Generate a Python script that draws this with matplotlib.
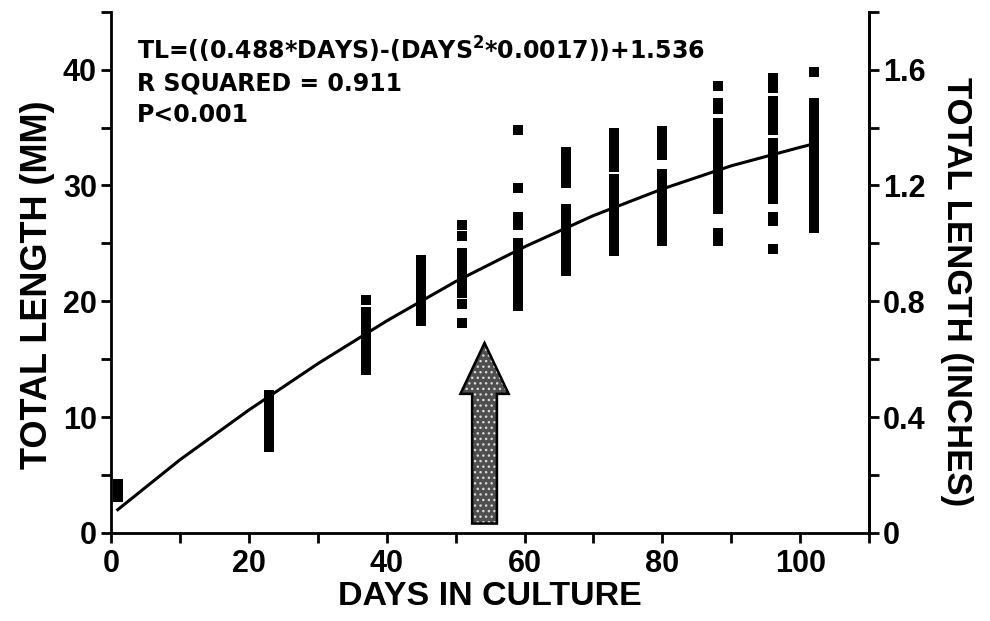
import matplotlib
matplotlib.use('Agg')
import matplotlib.pyplot as plt
from matplotlib.patches import Polygon
from matplotlib.ticker import MultipleLocator

plt.rcParams['font.family'] = ['Liberation Sans', 'DejaVu Sans']
plt.rcParams['font.weight'] = 'bold'
plt.rcParams['mathtext.fontset'] = 'custom'
plt.rcParams['mathtext.rm'] = 'DejaVu Sans:bold'
plt.rcParams['mathtext.it'] = 'DejaVu Sans:bold'
plt.rcParams['mathtext.bf'] = 'DejaVu Sans:bold'

# sample days (columns of fish measurements)
days = [1, 23, 37, 45, 51, 59, 66, 73, 80, 88, 96, 102]

# total length (mm), top to bottom
tl_d1 = [4.2, 3.9, 3.6, 3.3, 3.1]
tl_d23 = [11.9, 11.6, 11.3, 11.0, 10.7, 10.4, 10.1, 9.8, 9.5, 9.2, 8.9, 8.6, 8.3, 8.0, 7.7, 7.4]
tl_d37 = [20.1, 19.1, 18.8, 18.5, 18.2, 17.9, 17.6, 17.3, 17.0, 16.7, 16.4, 16.1, 15.8, 15.5,
          15.2, 14.9, 14.6, 14.3, 14.1]
tl_d45 = [23.6, 23.3, 23.0, 22.7, 22.4, 22.1, 21.8, 21.5, 21.2, 20.9, 20.6, 20.3, 20.0, 19.7,
          19.4, 19.1, 18.8, 18.5, 18.3]
tl_d51 = [26.6, 25.6, 24.2, 23.9, 23.6, 23.3, 23.0, 22.7, 22.4, 22.1, 21.8, 21.5, 21.2, 20.9,
          20.7, 19.8, 18.1]
tl_d59 = [34.8, 29.8, 27.3, 26.6, 25.0, 24.7, 24.4, 24.1, 23.8, 23.5, 23.2, 22.9, 22.6, 22.3,
          22.0, 21.7, 21.4, 21.1, 20.8, 20.4, 19.6]
tl_d66 = [32.9, 32.6, 32.3, 32.0, 31.7, 31.4, 31.1, 30.8, 30.5, 30.2, 28.0, 27.7, 27.4, 27.1,
          26.8, 26.5, 26.2, 25.9, 25.6, 25.3, 25.0, 24.7, 24.4, 24.1, 23.8, 23.4, 22.6]
tl_d73 = [34.5, 34.2, 33.9, 33.6, 33.3, 33.0, 32.7, 32.4, 32.1, 31.8, 31.6, 30.6, 30.3, 30.0,
          29.7, 29.4, 29.1, 28.8, 28.5, 28.2, 27.9, 27.6, 27.3, 27.0, 26.7, 26.4, 26.1, 25.8,
          25.5, 25.2, 24.9, 24.6, 24.3]
tl_d80 = [34.7, 34.4, 34.1, 33.8, 33.5, 33.2, 32.9, 32.6, 31.0, 30.7, 30.4, 30.1, 29.8, 29.5,
          29.2, 28.9, 28.6, 28.3, 28.0, 27.7, 27.4, 27.1, 26.8, 26.5, 26.2, 25.9, 25.6, 25.2]
tl_d88 = [38.6, 37.1, 36.6, 35.4, 35.1, 34.8, 34.5, 34.2, 33.9, 33.6, 33.3, 33.0, 32.7, 32.4,
          32.1, 31.8, 31.5, 31.2, 30.9, 30.6, 30.3, 30.0, 29.7, 29.4, 29.1, 28.8, 28.5, 28.2,
          28.0, 25.9, 25.2]
tl_d96 = [39.3, 38.4, 37.3, 37.0, 36.7, 36.4, 36.1, 35.8, 35.5, 35.2, 34.8, 33.7, 33.0, 32.7,
          32.4, 32.1, 31.8, 31.5, 31.2, 30.9, 30.6, 30.3, 30.0, 29.7, 29.3, 28.8, 27.3, 26.9, 24.5]
tl_d102 = [39.8, 37.1, 36.8, 36.5, 36.2, 35.9, 35.6, 35.3, 35.0, 34.7, 34.4, 34.1, 33.8, 33.5,
           33.2, 32.9, 32.6, 32.3, 32.0, 31.7, 31.1, 30.8, 30.5, 30.2, 29.9, 29.6, 29.3, 29.0,
           28.7, 28.4, 28.1, 27.8, 27.5, 27.1, 26.7, 26.3]

columns = [tl_d1, tl_d23, tl_d37, tl_d45, tl_d51, tl_d59, tl_d66, tl_d73, tl_d80, tl_d88,
           tl_d96, tl_d102]

# fitted curve
curve_days = [1, 10, 20, 30, 40, 50, 60, 70, 80, 90, 100, 102]
curve_tl = [2.0, 6.3, 10.6, 14.6, 18.3, 21.7, 24.7, 27.4, 29.7, 31.7, 33.3, 33.6]

# arrow marking (day, mm)
arrow_day = 54.2
arrow_tip = 16.4
arrow_base = 0.8

ftsize = 22
fig = plt.figure(figsize=(9.9, 6.21), dpi=100)
ax = fig.add_axes([0.112, 0.142, 0.766, 0.839])

for d, vals in zip(days, columns):
    ax.plot([d] * len(vals), vals, ls='none', marker='s', ms=7, mew=0, color='black')

ax.plot(curve_days, curve_tl, color='black', lw=2.2)

head_w = 3.5
shaft_w = 1.8
head_y = 12.0
pts = [(arrow_day, arrow_tip), (arrow_day + head_w, head_y), (arrow_day + shaft_w, head_y),
       (arrow_day + shaft_w, arrow_base), (arrow_day - shaft_w, arrow_base),
       (arrow_day - shaft_w, head_y), (arrow_day - head_w, head_y)]
ax.add_patch(Polygon(pts, closed=True, facecolor='#4e4e4e', edgecolor='#d8d8d8',
                     hatch='...', lw=0, zorder=3))
ax.add_patch(Polygon(pts, closed=True, facecolor='none', edgecolor='black', lw=1.8, zorder=4))

note = dict(fontsize=17, fontweight='bold', va='baseline', family='DejaVu Sans')
ax.text(3.8, 40.85, 'TL=((0.488*DAYS)-(DAYS$^{2}$*0.0017))+1.536', **note)
ax.text(3.8, 38.2, 'R SQUARED = 0.911', **note)
ax.text(3.8, 35.5, 'P<0.001', **note)

ax.set_xlim(0, 110)
ax.set_ylim(0, 45)
ax.xaxis.set_major_locator(MultipleLocator(20))
ax.xaxis.set_minor_locator(MultipleLocator(10))
ax.yaxis.set_major_locator(MultipleLocator(10))
ax.yaxis.set_minor_locator(MultipleLocator(5))
ax.spines['top'].set_visible(False)
for s in ['left', 'bottom', 'right']:
    ax.spines[s].set_linewidth(2)
ax.tick_params(which='both', direction='out', length=7, width=2, labelsize=ftsize, pad=3)
ax.tick_params(axis='x', which='both', pad=5)
ax.set_xlabel('DAYS IN CULTURE', fontsize=24.5, fontweight='bold', labelpad=1)
ax.set_ylabel('TOTAL LENGTH (MM)', fontsize=26, fontweight='bold', labelpad=6)
ax.yaxis.label.set_y(0.476)

ax2 = ax.twinx()
ax2.set_ylim(0, 45 / 25.0)
ax2.yaxis.set_major_locator(MultipleLocator(0.4))
ax2.yaxis.set_minor_locator(MultipleLocator(0.2))
ax2.spines['top'].set_visible(False)
ax2.spines['right'].set_linewidth(2)
ax2.tick_params(which='both', direction='out', length=7, width=2, labelsize=ftsize, pad=3)
ax2.yaxis.set_major_formatter(plt.FuncFormatter(lambda v, p: '0' if v == 0 else '%.1f' % v))
ax2.set_ylabel('TOTAL LENGTH (INCHES)', fontsize=25, fontweight='bold', rotation=270,
               labelpad=34)
ax2.yaxis.label.set_y(0.463)

fig.savefig('out.png', dpi=100)
